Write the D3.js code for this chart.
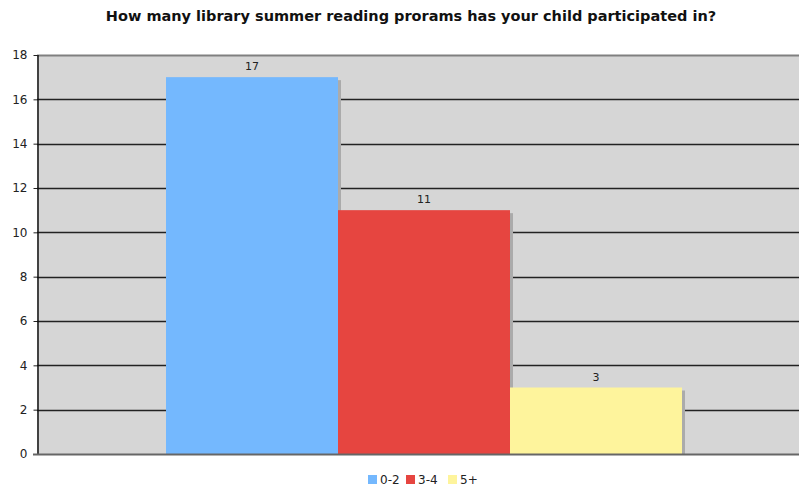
<!DOCTYPE html>
<html><head><meta charset="utf-8">
<script src="https://cdn.jsdelivr.net/npm/d3@7"></script>
<style>body{margin:0;background:#fff}svg{display:block}text{font-family:"DejaVu Sans",Verdana,sans-serif}</style>
</head><body>
<svg id="c" width="801" height="487"></svg>
<script>
const categories = ["0-2", "3-4", "5+"];
const values = [17, 11, 3];
const colors = ["#74b8fe", "#e64540", "#fef49c"];
const yTicks = [0, 2, 4, 6, 8, 10, 12, 14, 16, 18];
const title = "How many library summer reading prorams has your child participated in?";

(function () {
const svg = d3.select("#c");
const pL = 37, pR = 811, pT = 55, pB = 454, visRight = 799;
const x = d3.scaleBand().domain(categories).range([pL, pR]).paddingInner(0).paddingOuter(0.75);
const y = d3.scaleLinear().domain([0, 18]).range([pB, pT]);

svg.append("rect").attr("x", pL).attr("y", pT).attr("width", visRight - pL).attr("height", pB - pT).attr("fill", "#d6d6d6");

// gridlines
svg.append("g").selectAll("line").data(yTicks.filter(d => d > 0 && d < 18)).join("line")
  .attr("x1", pL).attr("x2", visRight).attr("y1", d => Math.round(y(d)) + 0.5).attr("y2", d => Math.round(y(d)) + 0.5)
  .attr("stroke", "#222").attr("stroke-width", 1.5);
svg.append("line").attr("x1", pL).attr("x2", visRight).attr("y1", pT + 0.5).attr("y2", pT + 0.5).attr("stroke", "#808080").attr("stroke-width", 2);

// shadows
svg.append("g").selectAll("rect").data(values).join("rect")
  .attr("x", (d, i) => x(categories[i]) + 3).attr("y", d => y(d) + 3)
  .attr("width", x.bandwidth()).attr("height", d => pB - y(d) - 3)
  .attr("fill", "#ababab");
// bars
svg.append("g").selectAll("rect").data(values).join("rect")
  .attr("x", (d, i) => x(categories[i])).attr("y", d => y(d))
  .attr("width", x.bandwidth()).attr("height", d => pB - y(d))
  .attr("fill", (d, i) => colors[i]);
// value labels
svg.append("g").selectAll("text").data(values).join("text")
  .attr("x", (d, i) => x(categories[i]) + x.bandwidth() / 2).attr("y", d => y(d) - 7)
  .attr("text-anchor", "middle").attr("font-size", 11).attr("fill", "#222").text(d => d);

// y axis
const yAxis = d3.axisLeft(y).tickValues(yTicks).tickSize(4).tickPadding(6);
const ga = svg.append("g").attr("transform", `translate(${pL + 0.5},0)`).call(yAxis);
ga.select(".domain").remove();
ga.selectAll(".tick line").attr("stroke", "#222");
ga.selectAll(".tick text").attr("font-size", 12).attr("fill", "#222").style("font-family", '"DejaVu Sans",Verdana,sans-serif');
svg.append("line").attr("x1", pL + 1).attr("x2", pL + 1).attr("y1", pT).attr("y2", pB).attr("stroke", "#111").attr("stroke-width", 1.5);
svg.append("line").attr("x1", pL - 4).attr("x2", visRight).attr("y1", pB + 0.5).attr("y2", pB + 0.5).attr("stroke", "#666").attr("stroke-width", 2);

// title
svg.append("text").attr("x", 411).attr("y", 21).attr("text-anchor", "middle")
  .attr("font-size", 14.5).attr("font-weight", "bold").attr("fill", "#111").text(title);

// legend
const lx = [368, 406, 448];
const lg = svg.append("g").selectAll("g").data(categories).join("g").attr("transform", (d, i) => `translate(${lx[i]},475)`);
lg.append("rect").attr("width", 9).attr("height", 9).attr("fill", (d, i) => colors[i]);
lg.append("text").attr("x", 12).attr("y", 9).attr("font-size", 12).attr("fill", "#222").text(d => d);
})();
</script>
</body></html>
